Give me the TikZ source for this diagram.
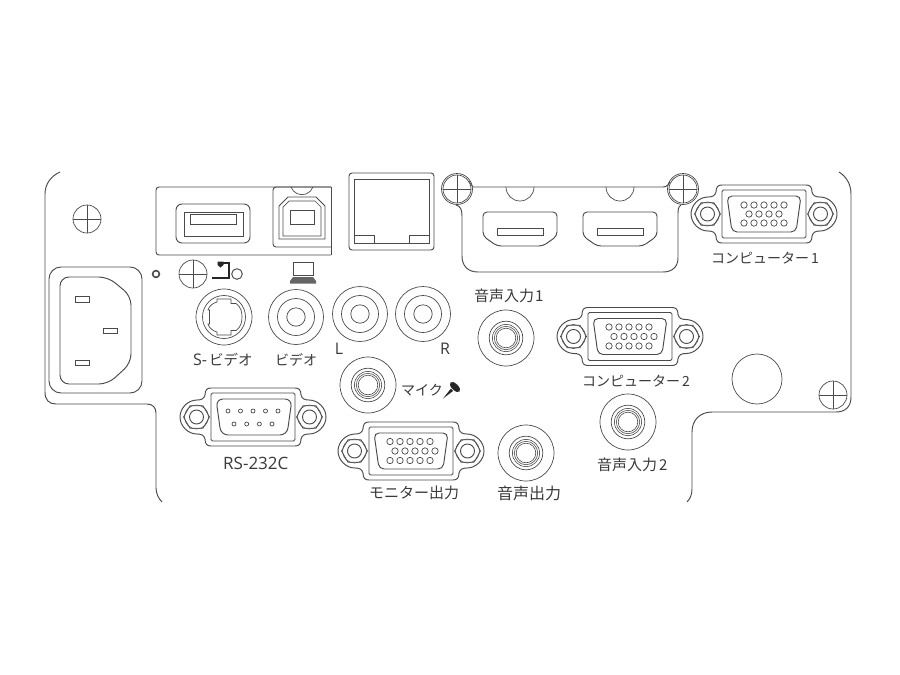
\documentclass[tikz,border=0pt]{standalone}
\usepackage{fontspec}
\setmainfont{Open Sans}
\newfontfamily\jp{Noto Sans CJK JP}
\usetikzlibrary{calc}
\definecolor{ln}{HTML}{4A4A4A}
\definecolor{tx}{HTML}{3A3A3A}
\tikzset{
 ln/.style={draw=ln,line width=0.7pt},
 lnb/.style={draw=ln,line width=0.95pt},
 lab/.style={text=tx,inner sep=0pt,font=\fontsize{14}{14}\selectfont},
 labm/.style={text=tx,inner sep=0pt,font=\fontsize{15}{15}\selectfont},
 labl/.style={text=tx,inner sep=0pt,font=\fontsize{16}{16}\selectfont},
 labx/.style={text=tx,inner sep=0pt,font=\fontsize{17}{17}\selectfont},
 pics/screw/.style={code={
  \draw[ln] (0,0) circle (14);
  \draw[ln] (-14,0)--(14,0) (0,-14)--(0,14);
 }},
 pics/jack/.style={code={
  \draw[ln] (0,0) circle (28);
  \draw[ln] (0,0) circle (16.8);
  \draw[ln,line width=0.6pt] (0,0) circle (13.6);
  \draw[ln,line width=0.6pt] (0,0) circle (11.7);
  \draw[ln,line width=0.6pt] (0,0) circle (9.8);
 }},
 pics/rca/.style={code={
  \draw[ln] (0,0) circle (27.5);
  \draw[ln] (0,0) circle (18.5);
  \draw[ln] (0,0) circle (9.2);
 }},
 pics/dbase/.style={code={
  \draw[lnb] (-42,-29)--(42,-29) .. controls (46,-29) and (48,-27) .. (48,-22)
    .. controls (49,-18) and (52,-17) .. (56,-17) .. controls (65,-17) and (73,-9) .. (73,0)
    .. controls (73,9) and (65,17) .. (56,17) .. controls (52,17) and (49,18) .. (48,22)
    .. controls (48,27) and (46,29) .. (42,29) -- (-42,29)
    .. controls (-46,29) and (-48,27) .. (-48,22) .. controls (-49,18) and (-52,17) .. (-56,17)
    .. controls (-65,17) and (-73,9) .. (-73,0) .. controls (-73,-9) and (-65,-17) .. (-56,-17)
    .. controls (-52,-17) and (-49,-18) .. (-48,-22) .. controls (-48,-27) and (-46,-29) .. (-42,-29) -- cycle;
  \draw[lnb,rounded corners=1.5] (-42,-24) rectangle (42,24);
  \foreach \s in {-1,1}{
   \begin{scope}[shift={(\s*56.5,0)}]
    \draw[lnb] (0,0) circle (7);
    \draw[ln] (0:13)--(60:13)--(120:13)--(180:13)--(240:13)--(300:13)--cycle;
    \draw[ln,line width=0.6pt] (0,0) circle (12);
   \end{scope}}
 }},
 pics/dshell/.style={code={
  \draw[lnb,rounded corners=5] (-37,-18)--(37,-18)--(32,18)--(-32,18)--cycle;
 }},
 pics/vgaA/.style={code={
  \pic at (0,0) {dbase};\pic at (0,0) {dshell};
  \foreach \x in {-20,-10,0,10,20}{
   \draw[ln] (\x,-9) circle (3.2); \draw[ln] (\x,9) circle (3.2);}
  \foreach \x in {-15,-5,5,15}{\draw[ln] (\x,0) circle (3.2);}
 }},
 pics/vgaB/.style={code={
  \pic at (0,0) {dbase};\pic at (0,0) {dshell};
  \foreach \x in {-21,-11,-1,9,19}{
   \draw[ln] (\x,-9.5) circle (3.2); \draw[ln] (\x,9.5) circle (3.2);
   \draw[ln] (\x+5,0) circle (3.2);}
 }},
}
\begin{document}
\begin{tikzpicture}[x=1pt,y=-1pt]
\useasboundingbox (0,0) rectangle (900,675);
\fill[white] (0,0) rectangle (900,675);
% outer outline
\draw[lnb] (60,172) .. controls (51,176) and (45,184) .. (45,194) -- (45,392)
  .. controls (45,400) and (49,404) .. (56,404) -- (147,404)
  .. controls (153,404) and (156,408) .. (156,413) -- (156,488) .. controls (156,494) and (159,499) .. (162,502);
\draw[lnb] (839,172) .. controls (847,177) and (851,185) .. (851,194) -- (851,397)
  .. controls (851,407) and (845,412) .. (836,412) -- (712,412)
  .. controls (700,412) and (692,420) .. (692,432) -- (692,489) .. controls (692,495) and (690,499) .. (687,502);
% screws
\pic at (87,219) {screw};
\pic at (193,274) {screw};
\pic at (833,395) {screw};
\pic at (457,189) {screw};
\pic at (683,189) {screw};
\draw[ln] (457,189) circle (15.5);
\draw[ln] (683,189) circle (15.5);
% power inlet
\draw[lnb,rounded corners=12] (49,267) rectangle (142,393);
\draw[lnb,rounded corners=9] (60,277)--(108,277)--(131,296)--(131,363)--(108,384)--(60,384)--cycle;
\draw[lnb] (75,296) rectangle (89,302);
\draw[lnb] (103,328) rectangle (117,333);
\draw[lnb] (75,360) rectangle (89,365);
% LED & icon
\draw[draw=ln,line width=1.6pt] (156,274) circle (3.4);
\draw[lnb] (237,274) circle (5.3);
\draw[black!85,line width=1.1pt] (212,278)--(229,278)--(229,263)--(221,263);
\fill[black!85] (217.5,261.5)--(223.5,261.5)--(223.5,265)--(220.5,267.5)--(217.5,265)--cycle;
% USB panel
\draw[lnb,rounded corners=3] (331,187)--(156,187)--(156,255)--(331,255);
\draw[lnb] (331,187)--(331,255);
\draw[lnb,rounded corners=3] (331,187)--(273,187)--(273,247)--(331,247);
\draw[ln] (291,187) arc[start angle=160,end angle=20,radius=11.7];
% usb b
\draw[lnb] (279,239)--(279,206)--(288,197)--(316,197)--(325,206)--(325,239)--cycle;
\draw[ln] (283,236)--(283,207)--(289,201)--(315,201)--(321,207)--(321,236)--cycle;
\draw[lnb] (290,210) rectangle (314,224);
% usb a
\draw[lnb,rounded corners=6] (176,204) rectangle (250,243);
\draw[lnb] (184,212) rectangle (243,236);
\draw[lnb] (190,214) rectangle (236,224);
% laptop icon
\draw[draw=ln,line width=1pt] (293,262.5) rectangle (313,275);
\fill[ln!85] (293,277)--(313,277)--(316,281)--(316,283.5)--(290,283.5)--(290,281)--cycle;
% LAN
\draw[lnb,rounded corners=3] (349,173) rectangle (434,250);
\draw[lnb] (354,179) rectangle (429,243);
\draw[lnb] (354,243)--(354,235)--(374,235)--(374,243);
\draw[lnb] (409,243)--(409,235)--(429,235)--(429,243);
% HDMI panel
\draw[lnb] (473,187) -- (663,187) .. controls (667,187) and (669,184) .. (670,182);
\draw[lnb] (681,205) .. controls (678,207) and (678,210) .. (678,214) -- (678,258)
  .. controls (678,267) and (672,272) .. (663,272) -- (478,272)
  .. controls (468,272) and (462,266) .. (462,256) -- (462,216) .. controls (462,209) and (460,206) .. (456,205);
\draw[ln] (473,187) .. controls (471,185) and (470,183) .. (469,181);
\draw[ln] (506,187) arc[start angle=180,end angle=0,radius=14];
\draw[ln] (606,187) arc[start angle=180,end angle=0,radius=14];
% HDMI
\foreach \x in {483,583}{
 \draw[lnb,rounded corners=4] (\x,212)--(\x+74,212)--(\x+74,236)--(\x+60,246)--(\x+14,246)--(\x,236)--cycle;
 \draw[lnb] (\x+14,228) rectangle (\x+60,235);
}
% d connectors
\pic at (764,214) {vgaA};
\pic at (630,336.5) {vgaB};
\pic at (411,451) {vgaB};
% RS232
\pic at (253,417) {dbase};
\draw[lnb,rounded corners=7] (216,399)--(292,399)--(287,435)--(221,435)--cycle;
\foreach \x in {228,240.5,253,265.5,278}{\draw[ln] (\x,411) circle (2);}
\foreach \x in {234,246.7,259.4,272}{\draw[ln] (\x,424) circle (2);}
% RCA
\pic at (360,314) {rca};
\pic at (423,314) {rca};
\pic at (296,317) {rca};
% S-video
\draw[ln] (224,317) circle (28);
\draw[ln] (224,317) circle (21.5);
\begin{scope}[shift={(224,317)}]
\draw[ln] (-7,-18)--(7,-18)--(7,-13.5)--(12,-13.5) .. controls (17,-10) and (18,-5) .. (18,0)
  .. controls (18,5) and (17,10) .. (12,13.5) -- (7,13.5)--(7,18)--(-7,18)--(-7,15)
  .. controls (-11,14) and (-15,11) .. (-16,7) -- (-14.5,7)--(-14.5,-7)--(-16,-7)
  .. controls (-15,-11) and (-11,-14) .. (-7,-15) -- cycle;
\end{scope}
% jacks
\pic at (506,338) {jack};
\pic at (368,385) {jack};
\pic at (526,453) {jack};
\pic at (628,422) {jack};
% foot
\draw[ln] (757,379) circle (25);
% mic icon
\fill[black!85] (443,398.5)--(451,388.5)--(453,391)--cycle;
\fill[black!85,rotate around={-45:(455,387)}] (455,387) ellipse (6.5 and 3.2);
% labels
\node[lab,anchor=west] (c1) at (711,258) {\jp コンピューター\hspace{2pt}1};
\node[lab,anchor=west] (c2) at (582,381) {\jp コンピューター\hspace{2pt}2};
\node[labm,anchor=west] (a1) at (474,296) {\jp 音声入力\hspace{1pt}1};
\node[labm,anchor=west] (a2) at (597,465) {\jp 音声入力\hspace{2pt}2};
\node[lab,anchor=west] (sv) at (193,360) {\fontsize{16}{16}\selectfont S-\hspace{2pt}\fontsize{14.5}{14.5}\selectfont\jp ビデオ};
\node[lab,anchor=west] (vd) at (275,360) {\jp ビデオ};
\node[labx,anchor=west] (rs) at (223,463) {RS-232C};
\node[labl,anchor=center] (ll) at (339,349) {L};
\node[labl,anchor=center] (rr) at (445,349) {R};
\node[lab,anchor=west] (mi) at (401,390) {\jp マイク};
\node[labm,anchor=west] (mo) at (369,493) {\jp モニター出力};
\node[labl,anchor=west] (so) at (497,493) {\jp 音声出力};
\end{tikzpicture}
\end{document}
